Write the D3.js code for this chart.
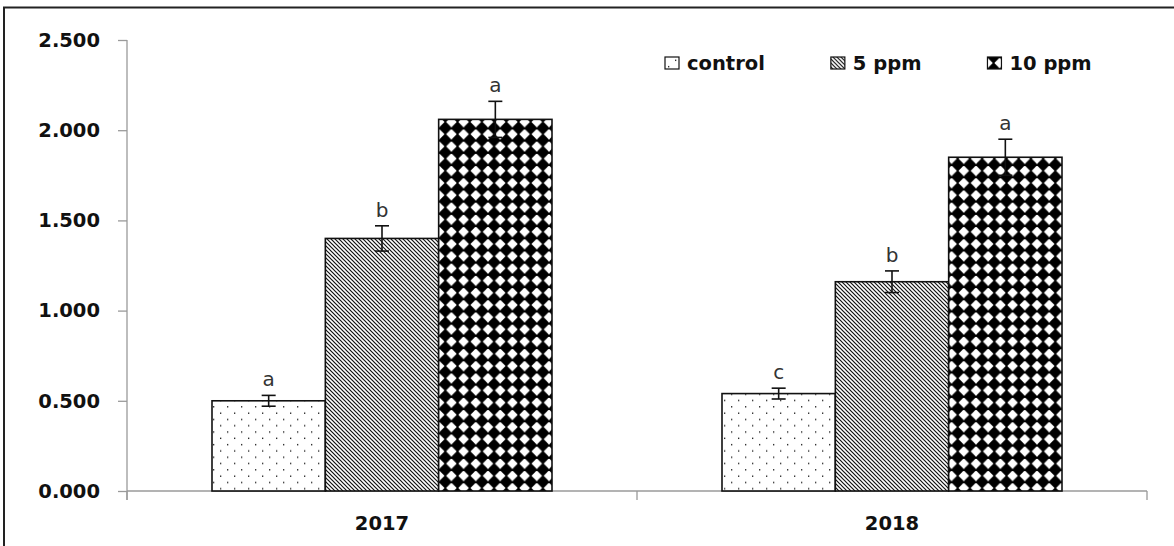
<!DOCTYPE html>
<html>
<head>
<meta charset="utf-8">
<script src="https://cdn.jsdelivr.net/npm/d3@7"></script>
<style>
  body { margin: 0; background: #fff; }
  svg { display: block; }
</style>
</head>
<body>
<script>
// data
const years = ['2017', '2018'];
const series = ['control', '5 ppm', '10 ppm'];
const values = {
  control: [0.50, 0.54],
  '5 ppm': [1.40, 1.16],
  '10 ppm': [2.06, 1.85],
};
const errors = {
  control: [0.03, 0.03],
  '5 ppm': [0.07, 0.06],
  '10 ppm': [0.10, 0.10],
};
const letters = {
  control: ['a', 'c'],
  '5 ppm': ['b', 'b'],
  '10 ppm': ['a', 'a'],
};
const yTicks = [0, 0.5, 1, 1.5, 2, 2.5];

const width = 1174;
const height = 546;
const fill = { control: 'url(#dots)', '5 ppm': 'url(#hatch)', '10 ppm': 'url(#diamonds)' };
const labelFont = { family: 'DejaVu Sans', size: '19.5px' };

const svg = d3.select('body').append('svg').attr('width', width).attr('height', height);

// patterns
const defs = svg.append('defs');
const dots = defs.append('pattern').attr('id', 'dots').attr('patternUnits', 'userSpaceOnUse')
  .attr('width', 14).attr('height', 12.6);
dots.append('rect').attr('width', 14).attr('height', 12.6).attr('fill', '#fff');
[[3, 3], [10, 9.3]].forEach(([px, py]) => {
  dots.append('rect').attr('x', px).attr('y', py).attr('width', 1.3).attr('height', 1.3).attr('fill', '#111');
});

const hatch = defs.append('pattern').attr('id', 'hatch').attr('patternUnits', 'userSpaceOnUse')
  .attr('width', 4).attr('height', 4);
hatch.append('rect').attr('width', 4).attr('height', 4).attr('fill', '#fff');
hatch.append('path').attr('d', 'M-1,-1L5,5M-1,3L1,5M3,-1L5,1')
  .attr('stroke', '#111').attr('stroke-width', 1.2);

const diam = defs.append('pattern').attr('id', 'diamonds').attr('patternUnits', 'userSpaceOnUse')
  .attr('width', 12.2).attr('height', 12.2);
diam.append('rect').attr('width', 12.2).attr('height', 12.2).attr('fill', '#fff');
diam.append('path').attr('d', 'M6.1,-0.8L13,6.1L6.1,13L-0.8,6.1Z').attr('fill', '#000');

// outer frame
svg.append('line').attr('x1', 3).attr('x2', width).attr('y1', 7.5).attr('y2', 7.5)
  .attr('stroke', '#222').attr('stroke-width', 2);
svg.append('line').attr('x1', 4).attr('x2', 4).attr('y1', 7).attr('y2', height)
  .attr('stroke', '#222').attr('stroke-width', 2);

// scales
const x = d3.scaleBand().domain(years).range([127, 1147]);
const xs = d3.scaleBand().domain(series).range([x.bandwidth() / 6, x.bandwidth() * 5 / 6]);
const y = d3.scaleLinear().domain([0, 2.5]).range([491, 40]);

const axisColor = '#9a9a9a';

// y axis
const yAxis = d3.axisLeft(y).tickValues(yTicks).tickFormat(d3.format('.3f')).tickSize(9).tickSizeOuter(0).tickPadding(18);
const gy = svg.append('g').attr('transform', 'translate(127,0)').call(yAxis);
gy.select('.domain').remove();
gy.append('line').attr('x1', 0).attr('x2', 0).attr('y1', y(2.5)).attr('y2', 500)
  .attr('stroke', axisColor).attr('stroke-width', 1.3);
gy.selectAll('.tick line').attr('stroke', axisColor).attr('stroke-width', 1.3);
gy.selectAll('.tick text').attr('fill', '#111')
  .style('font-family', labelFont.family).style('font-weight', 'bold').style('font-size', labelFont.size);

// x axis
const gx = svg.append('g').attr('transform', `translate(0,${y(0)})`);
gx.append('line').attr('x1', x.range()[0]).attr('x2', x.range()[1])
  .attr('stroke', axisColor).attr('stroke-width', 1.3);
const bounds = years.map((d) => x(d)).concat([x.range()[1]]);
gx.selectAll('line.tk').data(bounds).join('line').attr('class', 'tk')
  .attr('x1', (d) => d).attr('x2', (d) => d).attr('y1', 0).attr('y2', 9)
  .attr('stroke', axisColor).attr('stroke-width', 1.3);
gx.selectAll('text').data(years).join('text')
  .attr('x', (d) => x(d) + x.bandwidth() / 2).attr('y', 39)
  .attr('text-anchor', 'middle').attr('fill', '#111')
  .style('font-family', labelFont.family).style('font-weight', 'bold').style('font-size', labelFont.size)
  .text((d) => d);

// bars
const rows = [];
series.forEach((s) => years.forEach((yr, i) => {
  rows.push({ s, yr, v: values[s][i], e: errors[s][i], l: letters[s][i] });
}));

const bars = svg.append('g');
bars.selectAll('rect').data(rows).join('rect')
  .attr('x', (d) => x(d.yr) + xs(d.s))
  .attr('y', (d) => y(d.v))
  .attr('width', xs.bandwidth())
  .attr('height', (d) => y(0) - y(d.v))
  .attr('fill', (d) => fill[d.s])
  .attr('stroke', '#111').attr('stroke-width', 1.6);

// error bars
const eb = svg.append('g').attr('stroke', '#111').attr('stroke-width', 1.6);
rows.forEach((d) => {
  const cx = x(d.yr) + xs(d.s) + xs.bandwidth() / 2;
  eb.append('line').attr('x1', cx).attr('x2', cx).attr('y1', y(d.v + d.e)).attr('y2', y(d.v - d.e));
  eb.append('line').attr('x1', cx - 7).attr('x2', cx + 7).attr('y1', y(d.v + d.e)).attr('y2', y(d.v + d.e));
  eb.append('line').attr('x1', cx - 7).attr('x2', cx + 7).attr('y1', y(d.v - d.e)).attr('y2', y(d.v - d.e));
});

// significance letters
svg.append('g').selectAll('text').data(rows).join('text')
  .attr('x', (d) => x(d.yr) + xs(d.s) + xs.bandwidth() / 2)
  .attr('y', (d) => y(d.v + d.e) - 9)
  .attr('text-anchor', 'middle').attr('fill', '#333')
  .style('font-family', 'DejaVu Sans').style('font-size', '20px')
  .text((d) => d.l);

// legend
const legend = svg.append('g').attr('transform', 'translate(665,63)');
let lx = 0;
series.forEach((s) => {
  const g = legend.append('g').attr('transform', `translate(${lx},0)`);
  g.append('rect').attr('x', 0).attr('y', -6).attr('width', 14).attr('height', 12)
    .attr('fill', fill[s]).attr('stroke', '#111').attr('stroke-width', 1.2);
  const t = g.append('text').attr('x', 22).attr('y', 7).attr('fill', '#111')
    .style('font-family', labelFont.family).style('font-weight', 'bold').style('font-size', labelFont.size)
    .text(s);
  lx += 22 + t.node().getComputedTextLength() + 66;
});
</script>
</body>
</html>
